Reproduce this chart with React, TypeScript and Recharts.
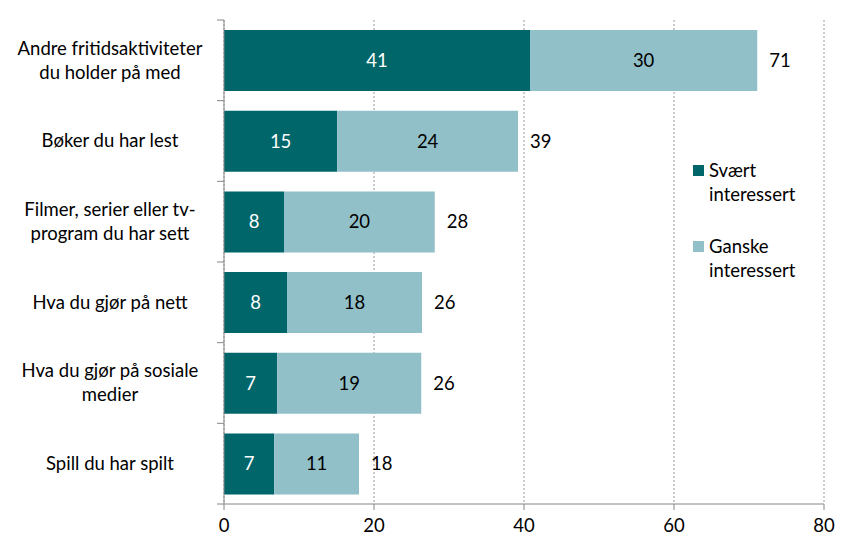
import { BarChart, Bar, XAxis, YAxis, CartesianGrid, Legend, LabelList } from 'recharts';

const categories = [
  'Andre fritidsaktiviteter\ndu holder på med',
  'Bøker du har lest',
  'Filmer, serier eller tv-\nprogram du har sett',
  'Hva du gjør på nett',
  'Hva du gjør på sosiale\nmedier',
  'Spill du har spilt',
];
const svaert = [40.8, 15.1, 8.0, 8.4, 7.1, 6.7];
const ganske = [30.3, 24.1, 20.1, 18.0, 19.2, 11.3];
const xTicks = [0, 20, 40, 60, 80];

const DARK = '#00666a';
const LIGHT = '#92c0c9';
const FONT = 'Lato, "Open Sans", sans-serif';
const FS = 18.5;

const chartData = categories.map((name, i) => ({
  name,
  svaert: svaert[i],
  ganske: ganske[i],
  total: svaert[i] + ganske[i],
}));

const round = (v: any) => Math.round(Number(v));

function CategoryTick(props: any) {
  const { y, payload, index } = props;
  const lines = String(payload.value).split('\n');
  const band = 484 / categories.length;
  const lineH = 24;
  const startY = y - ((lines.length - 1) * lineH) / 2;
  return (
    <g>
      <line x1={217} x2={224} y1={y - band / 2} y2={y - band / 2} stroke="#868686" />
      {index === categories.length - 1 && (
        <line x1={217} x2={224} y1={y + band / 2} y2={y + band / 2} stroke="#868686" />
      )}
      <text textAnchor="middle" fontSize={FS} fontFamily={FONT} fill="#000">
        {lines.map((l, i) => (
          <tspan key={i} x={110} y={startY + i * lineH} dy="0.35em">
            {l}
          </tspan>
        ))}
      </text>
    </g>
  );
}

function LegendBox() {
  const items = [
    { color: DARK, lines: ['Svært', 'interessert'] },
    { color: LIGHT, lines: ['Ganske', 'interessert'] },
  ];
  return (
    <div style={{ fontFamily: FONT, fontSize: FS, color: '#000', lineHeight: '24px' }}>
      {items.map((it, i) => (
        <div key={i} style={{ display: 'flex', alignItems: 'flex-start', marginBottom: i === 0 ? 28 : 0 }}>
          <span style={{ width: 11, height: 11, background: it.color, marginTop: 7, marginRight: 5, flexShrink: 0 }} />
          <span>
            {it.lines[0]}
            <br />
            {it.lines[1]}
          </span>
        </div>
      ))}
    </div>
  );
}

export default function App() {
  return (
    <div style={{ position: 'absolute', left: 0, top: 0, background: '#fff' }}>
      <BarChart
        width={852}
        height={550}
        data={chartData}
        layout="vertical"
        margin={{ top: 20, right: 28, bottom: 10, left: 0 }}
        barCategoryGap="12.5%"
      >
        <CartesianGrid horizontal={false} stroke="#9a9a9a" strokeDasharray="2 2" />
        <XAxis
          type="number"
          domain={[0, 80]}
          ticks={xTicks}
          stroke="#868686"
          tickSize={6}
          tick={{ fill: '#000', fontSize: FS, fontFamily: FONT }}
          tickMargin={9}
          height={36}
        />
        <YAxis
          type="category"
          dataKey="name"
          width={224}
          stroke="#868686"
          tickLine={false}
          tick={<CategoryTick />}
        />
        <Legend
          layout="vertical"
          align="center"
          verticalAlign="middle"
          content={<LegendBox />}
          wrapperStyle={{ left: 693, top: 158, width: 150 }}
        />
        <Bar dataKey="svaert" stackId="a" fill={DARK} isAnimationActive={false}>
          <LabelList dataKey="svaert" position="center" formatter={round} fill="#fff" fontSize={FS} fontFamily={FONT} />
        </Bar>
        <Bar dataKey="ganske" stackId="a" fill={LIGHT} isAnimationActive={false}>
          <LabelList dataKey="ganske" position="center" formatter={round} fill="#000" fontSize={FS} fontFamily={FONT} />
          <LabelList dataKey="total" position="right" offset={12} formatter={round} fill="#000" fontSize={FS} fontFamily={FONT} />
        </Bar>
      </BarChart>
    </div>
  );
}
